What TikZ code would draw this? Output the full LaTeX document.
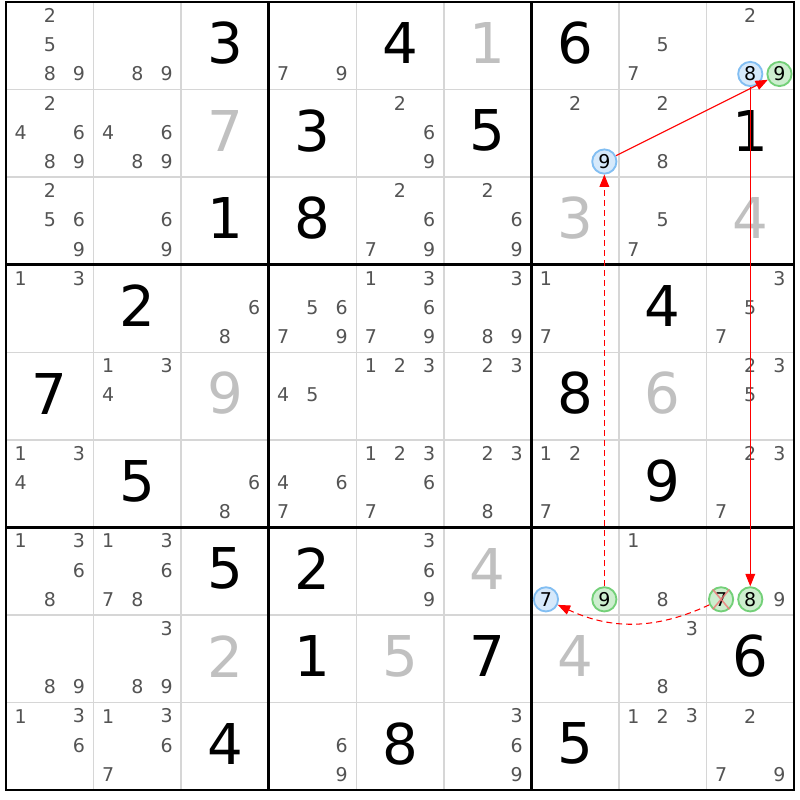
\documentclass[tikz,border=0pt]{standalone}
\usepackage{fontspec}
\setmainfont{DejaVu Sans}
\usetikzlibrary{arrows.meta}
\definecolor{candgray}{RGB}{84,84,84}
\definecolor{solvedgray}{RGB}{192,192,192}
\definecolor{thingray}{RGB}{214,214,214}
\definecolor{ringblue}{RGB}{130,190,242}
\definecolor{fillblue}{RGB}{214,233,251}
\definecolor{ringgreen}{RGB}{115,208,120}
\definecolor{fillgreen}{RGB}{205,238,207}
\definecolor{crossred}{RGB}{240,120,120}
\tikzset{
	given/.style={font=\fontsize{32}{32}\selectfont, text=black, inner sep=0pt},
	solved/.style={given, text=solvedgray},
	cand/.style={font=\fontsize{10.8}{11}\selectfont, text=candgray, inner sep=0pt},
	bluering/.style={cand, text=black, circle, draw=ringblue, fill=fillblue, line width=1.05pt, minimum size=13.8pt},
	greenring/.style={bluering, draw=ringgreen, fill=fillgreen},
	thinline/.style={draw=thingray, line width=0.8pt},
	boxline/.style={draw=black, line width=1.6pt},
	link/.style={draw=red, line width=0.6pt, -{Triangle[length=7pt,width=5.5pt]}},
	weaklink/.style={link, dash pattern=on 3.4pt off 2.3pt},
	crossline/.style={draw=crossred, line width=0.9pt, opacity=0.8}
}
\def\candnode[#1](#2)(#3,#4,#5){\node[#1] (#2) at ({6+(#4-1)*87.56+(mod(#5-1,3)+0.5)*29.19}, {2+(#3-1)*87.56+(floor((#5-1)/3)+0.5)*29.19-1}) {#5};}
\def\bignum[#1](#2)(#3,#4,#5){\node[#1] (#2) at ({6+(#4-0.5)*87.56}, {2+(#3-0.5)*87.56-2.5}) {#5};}

\begin{document}
\begin{tikzpicture}[x=0.02cm, y=-0.02cm]
			%%%%% GRID %%%%%
			\useasboundingbox (0,0) rectangle (800,800);
			\fill[white] (0,0) rectangle (800,800);
			
			\foreach \i in {1,2,4,5,7,8} {
				\draw[thinline] ({6+\i*87.56},2) -- ({6+\i*87.56},790);
				\draw[thinline] (6,{2+\i*87.56}) -- (794,{2+\i*87.56});
			}
			\foreach \i in {3,6} {
				\draw[boxline] ({6+\i*87.56},2) -- ({6+\i*87.56},790);
				\draw[boxline] (6,{2+\i*87.56}) -- (794,{2+\i*87.56});
			}
			\draw[boxline] (6,2) rectangle (794,790);
			
			%%%%% DIGITS %%%%%
			\foreach \r/\c/\v in {1/3/3, 1/5/4, 1/7/6, 2/4/3, 2/6/5, 2/9/1, 3/3/1, 3/4/8,
				4/2/2, 4/8/4, 5/1/7, 5/7/8, 6/2/5, 6/8/9, 7/3/5, 7/4/2, 8/4/1, 8/6/7, 8/9/6,
				9/3/4, 9/5/8, 9/7/5}
				{\bignum[given](g\r\c)(\r,\c,\v)}
			\foreach \r/\c/\v in {1/6/1, 2/3/7, 3/7/3, 3/9/4, 5/3/9, 5/8/6, 7/6/4, 8/3/2, 8/5/5, 8/7/4}
				{\bignum[solved](s\r\c)(\r,\c,\v)}
			
			%%%%% CANDIDATES %%%%%
			\foreach \r/\c/\ds in {1/1/{2,5,8,9}, 1/2/{8,9}, 1/4/{7,9}, 1/8/{5,7}, 1/9/{2},
				2/1/{2,4,6,8,9}, 2/2/{4,6,8,9}, 2/5/{2,6,9}, 2/7/{2}, 2/8/{2,8},
				3/1/{2,5,6,9}, 3/2/{6,9}, 3/5/{2,6,7,9}, 3/6/{2,6,9}, 3/8/{5,7},
				4/1/{1,3}, 4/3/{6,8}, 4/4/{5,6,7,9}, 4/5/{1,3,6,7,9}, 4/6/{3,8,9}, 4/7/{1,7}, 4/9/{3,5,7},
				5/2/{1,3,4}, 5/4/{4,5}, 5/5/{1,2,3}, 5/6/{2,3}, 5/9/{2,3,5},
				6/1/{1,3,4}, 6/3/{6,8}, 6/4/{4,6,7}, 6/5/{1,2,3,6,7}, 6/6/{2,3,8}, 6/7/{1,2,7}, 6/9/{2,3,7},
				7/1/{1,3,6,8}, 7/2/{1,3,6,7,8}, 7/5/{3,6,9}, 7/8/{1,8}, 7/9/{9},
				8/1/{8,9}, 8/2/{3,8,9}, 8/8/{3,8},
				9/1/{1,3,6}, 9/2/{1,3,6,7}, 9/4/{6,9}, 9/6/{3,6,9}, 9/8/{1,2,3}, 9/9/{2,7,9}}
				{\foreach \d in \ds {\candnode[cand](k\r\c\d)(\r,\c,\d)}}
			
			\candnode[bluering](b198)(1,9,8)
			\candnode[greenring](n199)(1,9,9)
			\candnode[bluering](b279)(2,7,9)
			\candnode[bluering](b777)(7,7,7)
			\candnode[greenring](n779)(7,7,9)
			\candnode[greenring](n797)(7,9,7)
			\candnode[greenring](n798)(7,9,8)
			
			\draw[crossline] (n797.130) -- (n797.-50);
			\draw[crossline] (n797.50) -- (n797.230);
			
			%%%%% LINKS %%%%%
			\draw[link] (b279) -- (n199);
			\draw[link] (b198) -- (n798);
			\draw[weaklink] (n779) -- (b279);
			\draw[weaklink] (n797) to[bend left=25] (b777);
\end{tikzpicture}
\end{document}
